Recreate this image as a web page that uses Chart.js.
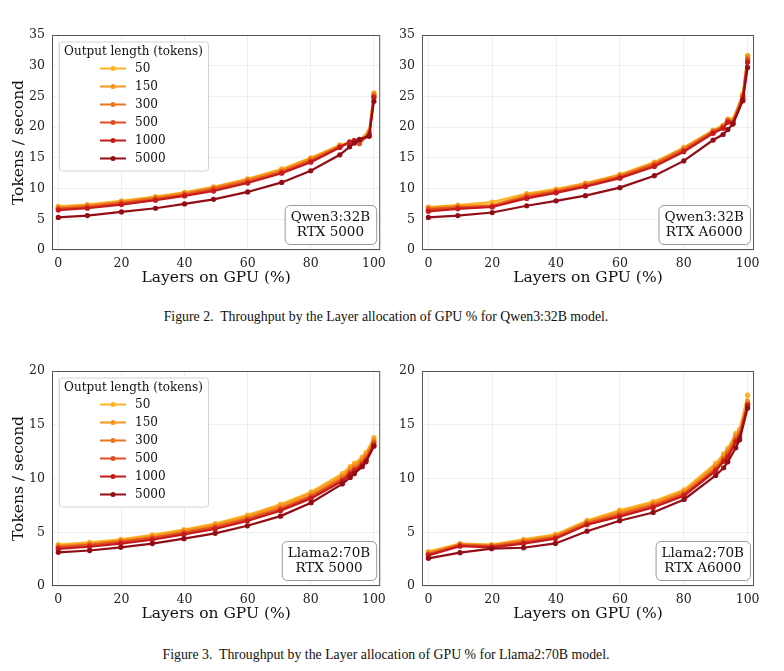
<!DOCTYPE html>
<html lang="en">
<head>
<meta charset="UTF-8">
<title>Throughput by layer allocation of GPU</title>
<style>
    body {
        margin: 0;
        background: #fff;
        width: 784px;
        height: 671px;
        position: relative;
        overflow: hidden;
    }
    canvas {
        position: absolute;
    }
    .caption {
        position: absolute;
        left: -6px;
        width: 784px;
        text-align: center;
        font-family: "Liberation Serif", serif;
        font-size: 13.8px;
        line-height: 16px;
        color: #111;
    }
</style>
<script src="https://cdn.jsdelivr.net/npm/chart.js"></script>
</head>
<body>
<canvas id="qwen5000" width="392" height="280" style="left:0;top:20px"></canvas>
<canvas id="qwenA6000" width="392" height="280" style="left:392px;top:20px"></canvas>
<div class="caption" style="top:309px">Figure 2.&nbsp; Throughput by the Layer allocation of GPU % for Qwen3:32B model.</div>
<canvas id="llama5000" width="392" height="280" style="left:0;top:356px"></canvas>
<canvas id="llamaA6000" width="392" height="280" style="left:392px;top:356px"></canvas>
<div class="caption" style="top:647px">Figure 3.&nbsp; Throughput by the Layer allocation of GPU % for Llama2:70B model.</div>

<script>
// series names and colours (light -> dark)
const outputLengths = ['50', '150', '300', '500', '1000', '5000'];
const lineColors = ['#fcb322', '#f7961d', '#ed7420', '#e04f1f', '#c71a1a', '#920d15'];

// tick labels
const xTicks = [0, 20, 40, 60, 80, 100];
const qwenYTicks = [0, 5, 10, 15, 20, 25, 30, 35];
const llamaYTicks = [0, 5, 10, 15, 20];

// layers on GPU (%)
const qwenLayers = [0, 9.2, 20, 30.8, 40, 49.2, 60, 70.8, 80, 89.2, 92.3, 93.8, 95.4, 98.5, 100];
const llamaLayers = [0, 9.9, 19.8, 29.8, 39.8, 49.7, 59.9, 70.4, 80.1, 90, 92.5, 93.8, 96.3, 97.5, 100];

// tokens / second, one row per output length
const qwenRtx5000 = [
    [7.1, 7.4, 8.0, 8.7, 9.4, 10.3, 11.6, 13.2, 15.0, 17.1, 17.5, 17.7, 17.9, 19.4, 25.6],
    [7.0, 7.3, 7.9, 8.6, 9.3, 10.2, 11.5, 13.0, 14.9, 17.0, 17.4, 17.6, 17.7, 19.2, 25.4],
    [6.8, 7.1, 7.7, 8.4, 9.1, 10.0, 11.3, 12.8, 14.7, 16.9, 17.3, 17.5, 17.5, 19.0, 25.2],
    [6.7, 7.0, 7.6, 8.3, 9.0, 9.9, 11.1, 12.7, 14.5, 16.8, 17.5, 17.8, 17.3, 18.9, 25.0],
    [6.5, 6.8, 7.4, 8.1, 8.8, 9.6, 10.9, 12.5, 14.3, 16.7, 17.6, 17.8, 17.9, 18.5, 24.8],
    [5.3, 5.6, 6.2, 6.8, 7.5, 8.25, 9.45, 11.0, 12.9, 15.5, 16.8, 17.4, 18.0, 18.6, 24.2]
];
const qwenRtxA6000 = [
    [7.0, 7.3, 7.8, 9.2, 9.9, 10.9, 12.3, 14.3, 16.7, 19.5, 20.3, 21.3, 21.3, 25.4, 31.7],
    [6.9, 7.2, 7.3, 9.0, 9.8, 10.8, 12.2, 14.2, 16.6, 19.4, 20.2, 21.2, 21.1, 25.2, 31.5],
    [6.7, 7.0, 7.2, 8.8, 9.6, 10.6, 12.0, 14.0, 16.4, 19.3, 20.1, 21.1, 20.9, 25.0, 31.2],
    [6.6, 6.9, 7.1, 8.6, 9.5, 10.5, 11.9, 13.9, 16.2, 19.2, 20.0, 21.0, 20.8, 24.9, 30.9],
    [6.3, 6.7, 7.0, 8.4, 9.3, 10.3, 11.7, 13.6, 16.0, 19.0, 19.8, 20.8, 20.6, 24.6, 30.6],
    [5.3, 5.6, 6.1, 7.2, 8.0, 8.85, 10.15, 12.1, 14.5, 17.9, 18.8, 19.6, 20.5, 24.3, 29.7]
];
const llamaRtx5000 = [
    [3.85, 4.05, 4.35, 4.75, 5.25, 5.8, 6.6, 7.6, 8.75, 10.45, 11.1, 11.4, 12.0, 12.4, 13.8],
    [3.75, 3.95, 4.25, 4.65, 5.15, 5.7, 6.45, 7.45, 8.6, 10.25, 10.9, 11.2, 11.8, 12.2, 13.6],
    [3.65, 3.85, 4.15, 4.5, 5.0, 5.55, 6.3, 7.25, 8.4, 10.05, 10.7, 11.0, 11.6, 12.0, 13.4],
    [3.6, 3.8, 4.1, 4.45, 4.95, 5.45, 6.2, 7.15, 8.3, 9.9, 10.55, 10.85, 11.4, 11.8, 13.3],
    [3.45, 3.65, 3.95, 4.3, 4.8, 5.3, 6.05, 7.0, 8.15, 9.75, 10.4, 10.7, 11.25, 11.65, 13.1],
    [3.13, 3.3, 3.6, 3.95, 4.4, 4.9, 5.6, 6.5, 7.75, 9.5, 10.1, 10.45, 11.1, 11.55, 13.0]
];
const llamaRtxA6000 = [
    [3.2, 3.95, 3.85, 4.35, 4.8, 6.1, 7.05, 7.85, 8.95, 11.4, 12.3, 12.8, 14.2, 14.6, 17.75],
    [3.1, 3.9, 3.8, 4.25, 4.7, 6.0, 6.9, 7.7, 8.8, 11.2, 12.1, 12.6, 14.0, 14.4, 17.2],
    [3.0, 3.85, 3.75, 4.15, 4.6, 5.9, 6.75, 7.55, 8.65, 11.0, 11.9, 12.4, 13.8, 14.2, 17.0],
    [2.95, 3.8, 3.7, 4.05, 4.5, 5.8, 6.6, 7.45, 8.55, 10.85, 11.75, 12.2, 13.6, 14.0, 16.9],
    [2.85, 3.7, 3.6, 3.95, 4.4, 5.7, 6.45, 7.3, 8.4, 10.7, 11.6, 12.0, 13.4, 13.8, 16.8],
    [2.57, 3.1, 3.47, 3.56, 3.96, 5.1, 6.07, 6.84, 8.05, 10.28, 11.0, 11.55, 12.85, 13.6, 16.55]
];

const serif = '"DejaVu Serif", serif';

// frame, in-plot legend and the model / GPU box
const panelDecor = {
    id: 'panelDecor',
    afterDraw(chart, args, opts) {
        const ctx = chart.ctx;
        const a = chart.chartArea;
        ctx.save();

        ctx.strokeStyle = '#555';
        ctx.lineWidth = 1;
        ctx.strokeRect(a.left + 0.5, a.top + 0.5, a.width - 1, a.height - 1);

        if (opts.showLegend) {
            const bx = a.left + 7, by = a.top + 6.5, bw = 149, bh = 129;
            ctx.fillStyle = 'rgba(255,255,255,0.85)';
            ctx.strokeStyle = '#d4d4d4';
            ctx.beginPath();
            ctx.roundRect(bx + 0.5, by + 0.5, bw, bh, 3);
            ctx.fill();
            ctx.stroke();

            ctx.fillStyle = '#111';
            ctx.textBaseline = 'middle';
            ctx.font = '12px ' + serif;
            ctx.textAlign = 'center';
            ctx.fillText('Output length (tokens)', bx + bw / 2, by + 10);
            ctx.textAlign = 'left';
            chart.data.datasets.forEach((ds, i) => {
                const y = by + 27 + i * 18;
                ctx.strokeStyle = ds.borderColor;
                ctx.lineWidth = 2;
                ctx.beginPath();
                ctx.moveTo(bx + 41, y);
                ctx.lineTo(bx + 67, y);
                ctx.stroke();
                ctx.fillStyle = ds.borderColor;
                ctx.beginPath();
                ctx.arc(bx + 54, y, 2.5, 0, Math.PI * 2);
                ctx.fill();
                ctx.fillStyle = '#111';
                ctx.fillText(ds.label, bx + 76, y + 0.5);
            });
        }

        if (opts.tag) {
            ctx.font = '13.5px ' + serif;
            const tw = Math.max(...opts.tag.map(t => ctx.measureText(t).width));
            const w = tw + 12, h = 39;
            const x = a.right - 4 - w, y = a.bottom - 6 - h;
            ctx.fillStyle = '#fff';
            ctx.strokeStyle = '#9a9a9a';
            ctx.lineWidth = 1;
            ctx.beginPath();
            ctx.roundRect(x + 0.5, y + 0.5, w, h, 5);
            ctx.fill();
            ctx.stroke();
            ctx.fillStyle = '#111';
            ctx.textAlign = 'center';
            ctx.textBaseline = 'middle';
            ctx.fillText(opts.tag[0], x + w / 2, y + 12);
            ctx.fillText(opts.tag[1], x + w / 2, y + 27);
        }
        ctx.restore();
    }
};

function makePanel(id, layers, series, yTicks, tag, leftPanel) {
    const datasets = series.map((vals, i) => ({
        label: outputLengths[i],
        data: layers.map((x, j) => ({ x: x, y: vals[j] })),
        borderColor: lineColors[i],
        backgroundColor: lineColors[i],
        borderWidth: 2.2,
        pointRadius: 2.6,
        pointBorderWidth: 0,
        tension: 0,
        order: series.length - i
    }));

    new Chart(document.getElementById(id), {
        type: 'line',
        data: { datasets: datasets },
        plugins: [panelDecor],
        options: {
            responsive: false,
            animation: false,
            layout: { padding: { top: 15, right: leftPanel ? 9 : 30, left: 0, bottom: 0 } },
            plugins: {
                legend: { display: false },
                tooltip: { enabled: false },
                panelDecor: { tag: tag, showLegend: leftPanel }
            },
            scales: {
                x: {
                    type: 'linear',
                    min: -2,
                    max: 102,
                    afterBuildTicks: s => { s.ticks = xTicks.map(v => ({ value: v })); },
                    afterFit: s => { s.height = 50; },
                    ticks: { font: { family: serif, size: 12.5 }, color: '#222', padding: 6, autoSkip: false, maxRotation: 0 },
                    grid: { color: '#ebebeb', lineWidth: 0.8, drawTicks: false },
                    border: { display: false },
                    title: {
                        display: true,
                        text: 'Layers on GPU (%)',
                        font: { family: serif, size: 15.5 },
                        color: '#111',
                        padding: { top: 0, bottom: 13 }
                    }
                },
                y: {
                    min: 0,
                    max: yTicks[yTicks.length - 1],
                    afterBuildTicks: s => { s.ticks = yTicks.map(v => ({ value: v })); },
                    afterFit: s => { s.width = leftPanel ? 52 : 30; },
                    ticks: { font: { family: serif, size: 12.5 }, color: '#222', padding: 7, autoSkip: false },
                    grid: { color: '#ebebeb', lineWidth: 0.8, drawTicks: false },
                    border: { display: false },
                    title: {
                        display: leftPanel,
                        text: 'Tokens / second',
                        font: { family: serif, size: 15.5 },
                        color: '#111',
                        padding: { top: 10, bottom: 0 }
                    }
                }
            }
        }
    });
}

makePanel('qwen5000', qwenLayers, qwenRtx5000, qwenYTicks, ['Qwen3:32B', 'RTX 5000'], true);
makePanel('qwenA6000', qwenLayers, qwenRtxA6000, qwenYTicks, ['Qwen3:32B', 'RTX A6000'], false);
makePanel('llama5000', llamaLayers, llamaRtx5000, llamaYTicks, ['Llama2:70B', 'RTX 5000'], true);
makePanel('llamaA6000', llamaLayers, llamaRtxA6000, llamaYTicks, ['Llama2:70B', 'RTX A6000'], false);
</script>
</body>
</html>
